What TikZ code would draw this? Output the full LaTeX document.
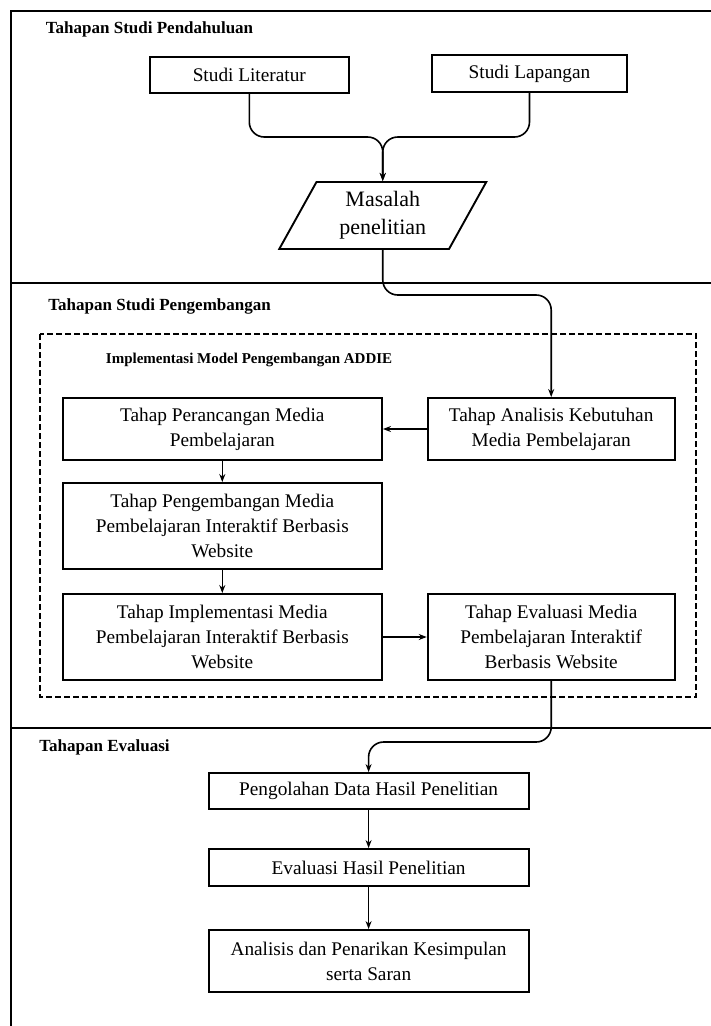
\documentclass[tikz,border=0pt]{standalone}
\usepackage{fontspec}
\setmainfont{Liberation Serif}
\usetikzlibrary{arrows.meta,positioning,shapes.geometric}

\begin{document}
\begin{tikzpicture}[x=1pt,y=-1pt,line width=1.9pt,
		>={Stealth[length=8pt,width=6pt]},
		tahap/.style={draw, rectangle, align=center, inner sep=2pt,
			font=\fontsize{19.3}{25}\selectfont},
		judul/.style={anchor=base west, inner sep=0pt,
			font=\bfseries\fontsize{17}{20}\selectfont},
		alur/.style={->, line width=1.6pt, rounded corners=15pt}]
	\useasboundingbox (0,0) rectangle (711,1026);
	% bingkai tiga tahapan
	\draw (711,11) -- (11,11) -- (11,1026);
	\draw (11,283) -- (711,283);
	\draw (11,728) -- (711,728);
	\draw[dashed, line width=1.4pt, dash pattern=on 6pt off 3pt] (40,334) rectangle (696,697);

	\node[judul] (judul1) at (45,33.5) {Tahapan Studi Pendahuluan};
	\node[judul] (judul2) at (47.5,310) {Tahapan Studi Pengembangan};
	\node[judul] (judul3) at (38.5,751.5) {Tahapan Evaluasi};
	\node[judul, font=\bfseries\fontsize{15}{18}\selectfont] (addie) at (105,363.3) {Implementasi Model Pengembangan ADDIE};

	% studi pendahuluan
	\node[tahap, minimum width=199pt, minimum height=36pt] (literatur) at (249.3,75) {Studi Literatur};
	\node[tahap, minimum width=195pt, minimum height=37pt] (lapangan) at (529.5,73.5) {Studi Lapangan};
	\node[draw, trapezium, trapezium left angle=52, trapezium right angle=128,
		trapezium stretches body, minimum height=67pt, minimum width=207pt,
		inner sep=0pt, align=center, font=\fontsize{22}{27.7}\selectfont] (masalah) at (382.75,215.5) {Masalah\\penelitian};

	% ADDIE
	\node[tahap, minimum width=247pt, minimum height=62pt] (analisis) at (551.2,429) {Tahap Analisis Kebutuhan\\Media Pembelajaran};
	\node[tahap, minimum width=319.4pt, minimum height=62pt] (rancang) at (222.3,429) {Tahap Perancangan Media\\Pembelajaran};
	\node[tahap, minimum width=319.4pt, minimum height=86pt] (kembang) at (222.3,526) {Tahap Pengembangan Media\\Pembelajaran Interaktif Berbasis\\Website};
	\node[tahap, minimum width=319.4pt, minimum height=86pt] (implementasi) at (222.3,637) {Tahap Implementasi Media\\Pembelajaran Interaktif Berbasis\\Website};
	\node[tahap, minimum width=247pt, minimum height=86pt] (evaluasi) at (551.2,637) {Tahap Evaluasi Media\\Pembelajaran Interaktif\\Berbasis Website};

	% evaluasi
	\node[tahap, minimum width=320pt, minimum height=36pt] (olah) at (368.6,791) {Pengolahan Data Hasil Penelitian};
	\node[tahap, minimum width=320pt, minimum height=37pt] (hasil) at (368.6,867.5) {Evaluasi Hasil Penelitian};
	\node[tahap, minimum width=320pt, minimum height=62pt] (simpulan) at (368.6,961) {Analisis dan Penarikan Kesimpulan\\serta Saran};

	\coordinate (gabung) at (382.75,137);
	\coordinate (belok1) at (382.75,295);
	\coordinate (belok2) at (551.2,742);

	\draw[alur] (literatur.south) |- (gabung) -- (masalah.north);
	\draw[alur] (lapangan.south) |- (gabung) -- (masalah.north);
	\draw[alur] (masalah.south) -- (belok1) -| (analisis.north);
	\draw[alur] (analisis.west) -- (rancang.east);
	\draw[alur] (rancang.south) -- (kembang.north);
	\draw[alur] (kembang.south) -- (implementasi.north);
	\draw[alur] (implementasi.east) -- (evaluasi.west);
	\draw[alur] (evaluasi.south) -- (belok2) -| (olah.north);
	\draw[alur] (olah.south) -- (hasil.north);
	\draw[alur] (hasil.south) -- (simpulan.north);
\end{tikzpicture}
\end{document}
